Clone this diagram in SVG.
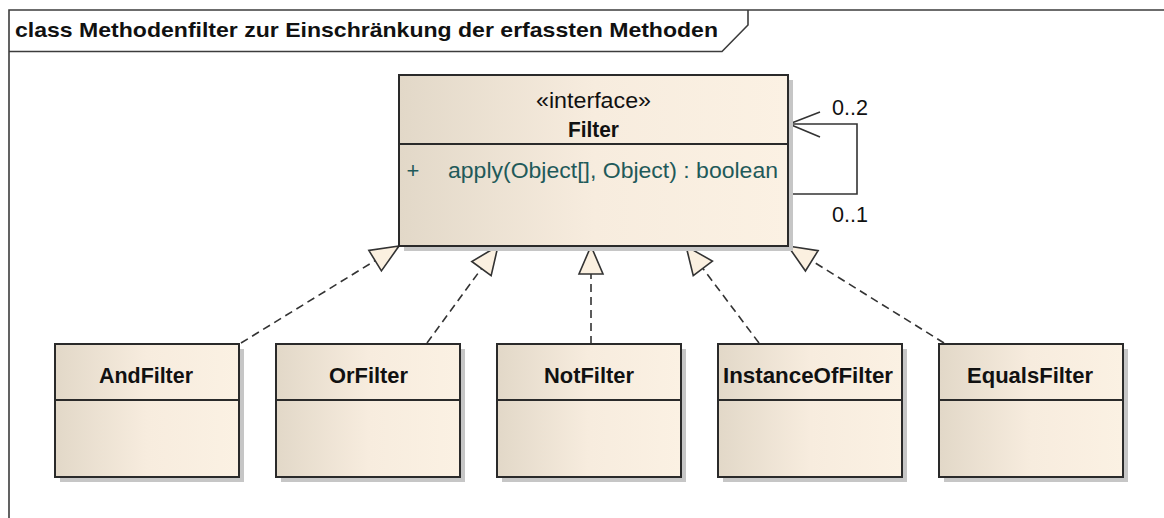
<svg xmlns="http://www.w3.org/2000/svg" width="1164" height="518" viewBox="0 0 1164 518">
<style>
.frame{fill:none;stroke:#3c3c3c;stroke-width:1.6}
.box{stroke:#2a2a2a;stroke-width:2;fill:url(#g)}
.sep{stroke:#2a2a2a;stroke-width:2}
.shadow{fill:#c6c6c6}
.t{font-family:"Liberation Sans",Arial,sans-serif;font-size:22px;fill:#111}
.tt{font-size:21px}
.b{font-weight:bold}
.m{fill:#1f5a5a}
.dash{fill:none;stroke:#333;stroke-width:1.6;stroke-dasharray:8 5}
.assoc{fill:none;stroke:#333;stroke-width:1.6}
</style>
<defs>
<linearGradient id="g" x1="0" y1="0" x2="1" y2="0">
<stop offset="0" stop-color="#e2d8c8"/>
<stop offset="0.5" stop-color="#f7ecde"/>
<stop offset="1" stop-color="#fbf1e3"/>
</linearGradient>
<marker id="tri" markerUnits="userSpaceOnUse" viewBox="-31 -14 33 28" refX="0" refY="0" markerWidth="33" markerHeight="28" orient="auto" overflow="visible">
<path d="M0,0 L-28,-12 L-28,12 Z" fill="#fbf0e0" stroke="#333" stroke-width="1.6" stroke-dasharray="none" stroke-linejoin="miter"/>
</marker>
</defs>
<rect width="1164" height="518" fill="#fff"/>
<g id="frame">
<path class="frame" d="M9,518 V10 H1164"/>
<path class="frame" d="M9,51.5 H722 L748,25 V10"/>
<text class="t tt b" x="15" y="37" textLength="703" lengthAdjust="spacingAndGlyphs">class Methodenfilter zur Einschränkung der erfassten Methoden</text>
</g>
<g id="connectors">
<path class="dash" d="M241,343 L399,246" marker-end="url(#tri)"/>
<path class="dash" d="M427,343 L498,246" marker-end="url(#tri)"/>
<path class="dash" d="M591,344 L591,246" marker-end="url(#tri)"/>
<path class="dash" d="M759,343 L686,246" marker-end="url(#tri)"/>
<path class="dash" d="M944,343 L788,246" marker-end="url(#tri)"/>
<path class="assoc" d="M789,124 H857 V194 H789"/>
<path class="assoc" d="M820,112 L789,124 L820,137"/>
<text class="t" x="832" y="115" textLength="36" lengthAdjust="spacingAndGlyphs">0..2</text>
<text class="t" x="832" y="222" textLength="36" lengthAdjust="spacingAndGlyphs">0..1</text>
</g>
<g id="Filter">
<rect class="shadow" x="404" y="80" width="389" height="171"/>
<rect class="box" x="399" y="75" width="389" height="171"/>
<line class="sep" x1="399" y1="144" x2="788" y2="144"/>
<text class="t" x="593.5" y="108" text-anchor="middle" textLength="115" lengthAdjust="spacingAndGlyphs">«interface»</text>
<text class="t b" x="593.5" y="137" text-anchor="middle" textLength="51" lengthAdjust="spacingAndGlyphs">Filter</text>
<text class="t m" x="413" y="178" text-anchor="middle">+</text>
<text class="t m" x="448" y="178" textLength="330" lengthAdjust="spacingAndGlyphs">apply(Object[], Object) : boolean</text>
</g>
<g id="AndFilter">
<rect class="shadow" x="60" y="349" width="184" height="133"/>
<rect class="box" x="55" y="344" width="184" height="133"/>
<line class="sep" x1="55" y1="400" x2="239" y2="400"/>
<text class="t b" x="146" y="383" text-anchor="middle" textLength="94" lengthAdjust="spacingAndGlyphs">AndFilter</text>
</g>
<g id="OrFilter">
<rect class="shadow" x="281" y="349" width="184" height="133"/>
<rect class="box" x="276" y="344" width="184" height="133"/>
<line class="sep" x1="276" y1="400" x2="460" y2="400"/>
<text class="t b" x="368.5" y="383" text-anchor="middle" textLength="79" lengthAdjust="spacingAndGlyphs">OrFilter</text>
</g>
<g id="NotFilter">
<rect class="shadow" x="502" y="349" width="184" height="133"/>
<rect class="box" x="497" y="344" width="184" height="133"/>
<line class="sep" x1="497" y1="400" x2="681" y2="400"/>
<text class="t b" x="589" y="383" text-anchor="middle" textLength="90" lengthAdjust="spacingAndGlyphs">NotFilter</text>
</g>
<g id="InstanceOfFilter">
<rect class="shadow" x="723" y="349" width="184" height="133"/>
<rect class="box" x="718" y="344" width="184" height="133"/>
<line class="sep" x1="718" y1="400" x2="902" y2="400"/>
<text class="t b" x="808" y="383" text-anchor="middle" textLength="170" lengthAdjust="spacingAndGlyphs">InstanceOfFilter</text>
</g>
<g id="EqualsFilter">
<rect class="shadow" x="944" y="349" width="184" height="133"/>
<rect class="box" x="939" y="344" width="184" height="133"/>
<line class="sep" x1="939" y1="400" x2="1123" y2="400"/>
<text class="t b" x="1030" y="383" text-anchor="middle" textLength="126" lengthAdjust="spacingAndGlyphs">EqualsFilter</text>
</g>
</svg>
